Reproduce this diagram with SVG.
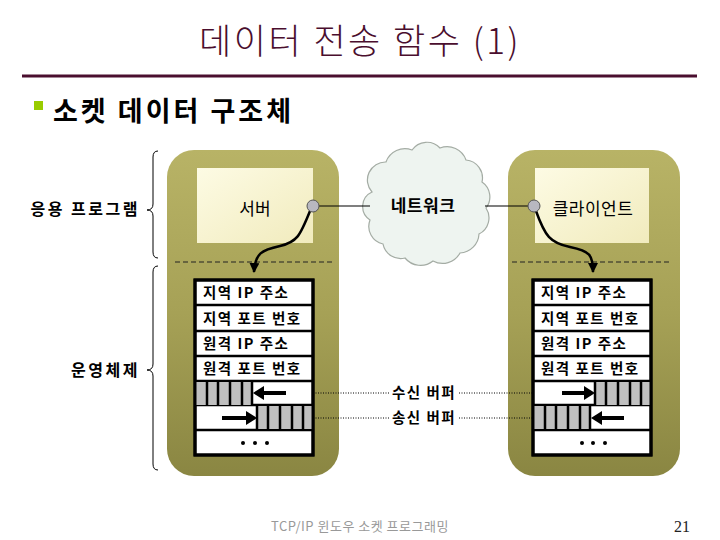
<svg xmlns="http://www.w3.org/2000/svg" width="720" height="540" viewBox="0 0 720 540">
<defs>
<linearGradient id="panel" x1="0" y1="0" x2="0" y2="1">
<stop offset="0" stop-color="#b8b366"/>
<stop offset="0.5" stop-color="#a6a156"/>
<stop offset="1" stop-color="#8a8642"/>
</linearGradient>
<linearGradient id="inner" x1="0" y1="0" x2="1" y2="1">
<stop offset="0" stop-color="#fdfbe4"/>
<stop offset="1" stop-color="#f1ebbd"/>
</linearGradient>
<marker id="ah" viewBox="0 0 10 10" refX="9" refY="5" markerWidth="4" markerHeight="4" orient="auto">
<path d="M0,0 L10,5 L0,10 z" fill="#000"/>
</marker>
<g id="stripesL">
<rect x="0" y="0" width="57" height="23" fill="#c0c0c0"/>
<path d="M12,0 V23 M23,0 V23 M35,0 V23 M47,0 V23 M57,0 V23" stroke="#000" stroke-width="2.5"/>
</g>
<g id="stripesR">
<rect x="0" y="0" width="56" height="23" fill="#c0c0c0"/>
<path d="M0,0 V23 M11,0 V23 M23,0 V23 M35,0 V23 M46,0 V23" stroke="#000" stroke-width="2.5"/>
</g>
</defs>
<style>
.kr{font-family:"Noto Sans CJK KR","Noto Sans",sans-serif}
.cell{font-family:"Noto Sans CJK KR",sans-serif;font-size:14.5px;font-weight:bold;fill:#000;letter-spacing:1.5px}
.lbl{font-family:"Noto Sans CJK KR",sans-serif;font-size:16px;font-weight:bold;fill:#000;letter-spacing:2.5px}
.tbl{fill:#fff;stroke:#000;stroke-width:3}
.row{stroke:#000;stroke-width:2.5}
.dash{stroke:#222;stroke-width:1.2;stroke-dasharray:5,3;fill:none}
.dot{stroke:#000;stroke-width:1;stroke-dasharray:1,1.5;fill:none}
.brace{fill:none;stroke:#000;stroke-width:1}
.arr{stroke:#000;stroke-width:4;fill:none}
</style>
<rect width="720" height="540" fill="#fff"/>

<g id="title">
<text x="360" y="54" text-anchor="middle" class="kr" font-size="35" font-weight="300" letter-spacing="2.5" fill="#4a0e2e">데이터 전송 함수 (1)</text>
<line x1="22" y1="76" x2="697" y2="76" stroke="#4a0e2e" stroke-width="3"/>
</g>
<g id="bullet">
<rect x="34" y="101" width="9" height="9" fill="#99cc00"/>
<text x="53" y="121" class="kr" font-size="27" font-weight="bold" letter-spacing="3" fill="#000">소켓 데이터 구조체</text>
</g>

<g id="app-label">
<text x="140" y="215" text-anchor="end" class="lbl">응용 프로그램</text>
<path class="brace" d="M158,151 Q153,151 153,157 L153,204 Q153,210 147,210 Q153,210 153,216 L153,252 Q153,258 158,258"/>
</g>
<g id="os-label">
<text x="140" y="376" text-anchor="end" class="lbl">운영체제</text>
<path class="brace" d="M158,266 Q153,266 153,272 L153,364 Q153,370 147,370 Q153,370 153,376 L153,464 Q153,470 158,470"/>
</g>

<g id="server">
<rect x="167" y="150" width="172" height="326" rx="27" fill="url(#panel)"/>
<rect x="197" y="168" width="116" height="75" fill="url(#inner)"/>
<text x="255" y="215" text-anchor="middle" class="kr" font-size="17" fill="#000">서버</text>
<line class="dash" x1="175" y1="262" x2="333" y2="262"/>
<rect class="tbl" x="195" y="280" width="118" height="175"/>
<path class="row" d="M195,305 H313 M195,331 H313 M195,356 H313 M195,381 H313 M195,405 H313 M195,430 H313"/>
<text x="203" y="298" class="cell">지역 IP 주소</text>
<text x="203" y="324" class="cell">지역 포트 번호</text>
<text x="203" y="349" class="cell">원격 IP 주소</text>
<text x="203" y="374" class="cell">원격 포트 번호</text>
<use href="#stripesL" x="195" y="382"/>
<line class="arr" x1="286" y1="393" x2="262" y2="393"/>
<path d="M253,393 L264,386 L264,400 z" fill="#000"/>
<use href="#stripesR" x="257" y="406"/>
<line class="arr" x1="222" y1="418" x2="248" y2="418"/>
<path d="M257,418 L246,411 L246,425 z" fill="#000"/>
<circle cx="243" cy="443" r="2" fill="#000"/>
<circle cx="255" cy="443" r="2" fill="#000"/>
<circle cx="267" cy="443" r="2" fill="#000"/>
<rect class="tbl" x="195" y="280" width="118" height="175" style="fill:none"/>
</g>

<g id="network">
<path d="M372,192 A18,18 0 0 1 386,162 A20,20 0 0 1 412,150 A18,18 0 0 1 440,148 A20,20 0 0 1 466,160 A18,18 0 0 1 482,182 A18,18 0 0 1 486,208 A18,18 0 0 1 479,234 A20,20 0 0 1 460,253 A20,20 0 0 1 433,261 A20,20 0 0 1 405,258 A18,18 0 0 1 383,244 A18,18 0 0 1 370,220 A16,16 0 0 1 372,192 z" fill="#eef4f0" stroke="#a4aca4" stroke-width="1.2"/>
<text x="423" y="212" text-anchor="middle" class="kr" font-size="17" font-weight="bold" letter-spacing="0.5" fill="#000">네트워크</text>
</g>

<g id="client">
<rect x="508" y="150" width="172" height="326" rx="27" fill="url(#panel)"/>
<rect x="535" y="168" width="114" height="75" fill="url(#inner)"/>
<text x="593" y="215" text-anchor="middle" class="kr" font-size="17" letter-spacing="0.5" fill="#000">클라이언트</text>
<line class="dash" x1="512" y1="262" x2="672" y2="262"/>
<rect class="tbl" x="533" y="280" width="118" height="175"/>
<path class="row" d="M533,305 H651 M533,331 H651 M533,356 H651 M533,381 H651 M533,405 H651 M533,430 H651"/>
<text x="541" y="298" class="cell">지역 IP 주소</text>
<text x="541" y="324" class="cell">지역 포트 번호</text>
<text x="541" y="349" class="cell">원격 IP 주소</text>
<text x="541" y="374" class="cell">원격 포트 번호</text>
<use href="#stripesR" x="595" y="382"/>
<line class="arr" x1="562" y1="393" x2="586" y2="393"/>
<path d="M595,393 L584,386 L584,400 z" fill="#000"/>
<use href="#stripesL" x="533" y="406"/>
<line class="arr" x1="624" y1="418" x2="600" y2="418"/>
<path d="M591,418 L602,411 L602,425 z" fill="#000"/>
<circle cx="582" cy="443" r="2" fill="#000"/>
<circle cx="593" cy="443" r="2" fill="#000"/>
<circle cx="605" cy="443" r="2" fill="#000"/>
<rect class="tbl" x="533" y="280" width="118" height="175" style="fill:none"/>
</g>

<g id="connectors">
<line x1="319" y1="206" x2="370" y2="206" stroke="#000" stroke-width="1.2"/>
<line x1="485" y1="206" x2="528" y2="206" stroke="#000" stroke-width="1.2"/>
<path d="M310,211 C300,236 297,242 280,246 C262,250 255,253 254,272" fill="none" stroke="#000" stroke-width="2.5" marker-end="url(#ah)"/>
<path d="M536,211 C545,236 550,243 570,247 C590,251 593,255 593,272" fill="none" stroke="#000" stroke-width="2.5" marker-end="url(#ah)"/>
<circle cx="313" cy="206" r="6" fill="#b8b8c0" stroke="#555" stroke-width="1"/>
<circle cx="534" cy="206" r="6" fill="#b8b8c0" stroke="#555" stroke-width="1"/>
<line class="dot" x1="313" y1="393" x2="389" y2="393"/>
<line class="dot" x1="459" y1="393" x2="533" y2="393"/>
<line class="dot" x1="313" y1="418" x2="389" y2="418"/>
<line class="dot" x1="459" y1="418" x2="533" y2="418"/>
<text x="424" y="398" text-anchor="middle" class="cell" letter-spacing="1">수신 버퍼</text>
<text x="424" y="423" text-anchor="middle" class="cell" letter-spacing="1">송신 버퍼</text>
</g>

<g id="footer">
<text x="360" y="531" text-anchor="middle" class="kr" font-size="13" letter-spacing="0.5" fill="#999">TCP/IP 윈도우 소켓 프로그래밍</text>
<text x="690" y="532" text-anchor="end" font-family="Liberation Serif,serif" font-size="16" fill="#222">21</text>
</g>
</svg>
